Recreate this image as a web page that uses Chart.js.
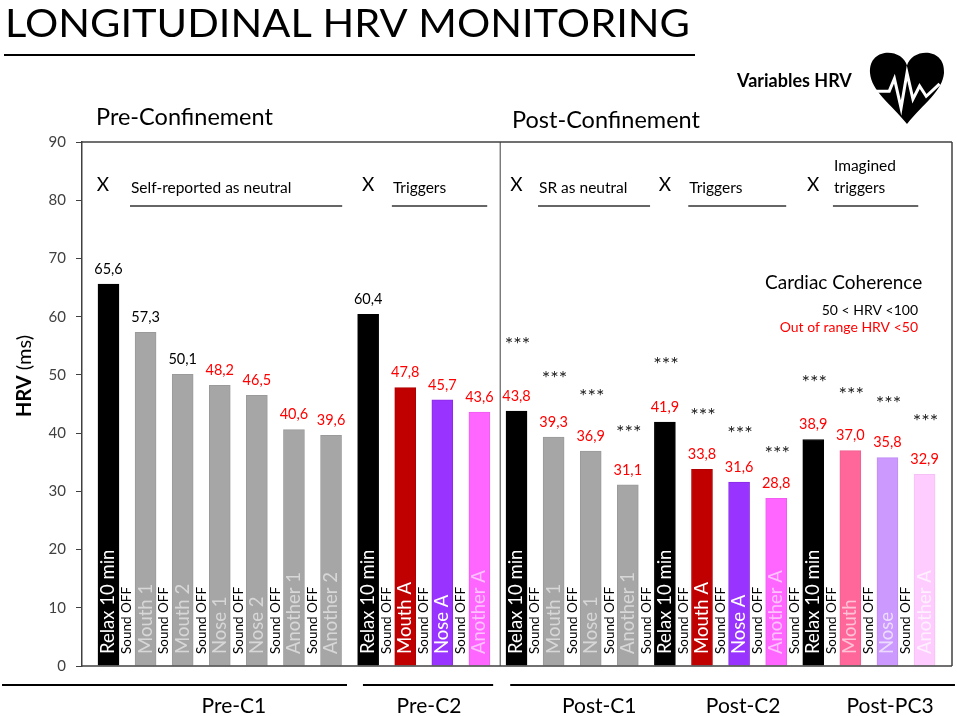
<!DOCTYPE html>
<html>
<head>
<meta charset="utf-8">
<title>Longitudinal HRV monitoring</title>
<script src="https://cdn.jsdelivr.net/npm/chart.js@4.4.0/dist/chart.umd.min.js"></script>
<style>
    html, body { margin: 0; padding: 0; background: #fff; }
    #wrap { width: 957px; height: 716px; }
</style>
</head>
<body>
<div id="wrap"><canvas id="hrvChart" width="957" height="716"></canvas></div>
<script>
// Conditions in plot order (one bar each)
const conditions = [
    'Relax 10 min', 'Mouth 1', 'Mouth 2', 'Nose 1', 'Nose 2', 'Another 1', 'Another 2',
    'Relax 10 min', 'Mouth A', 'Nose A', 'Another A',
    'Relax 10 min', 'Mouth 1', 'Nose 1', 'Another 1',
    'Relax 10 min', 'Mouth A', 'Nose A', 'Another A',
    'Relax 10 min', 'Mouth', 'Nose', 'Another A'
];
const hrvValues = [
    65.6, 57.3, 50.1, 48.2, 46.5, 40.6, 39.6,
    60.4, 47.8, 45.7, 43.6,
    43.8, 39.3, 36.9, 31.1,
    41.9, 33.8, 31.6, 28.8,
    38.9, 37.0, 35.8, 32.9
];
// height (ms) of the *** significance marks, post-confinement only
const starLevels = [
    null, null, null, null, null, null, null,
    null, null, null, null,
    56.0, 50.3, 47.2, 41.0,
    52.6, 43.8, 40.7, 37.4,
    49.5, 47.4, 46.0, 42.9
];
// a "Sound OFF" label sits between bar i and bar i+1
const soundOffAfter = [0, 1, 2, 3, 4, 5, 7, 8, 9, 11, 12, 13, 14, 15, 16, 17, 18, 19, 20, 21];

const groupNames = ['Pre-C1', 'Pre-C2', 'Post-C1', 'Post-C2', 'Post-PC3'];
const groupNotes = [['Self-reported as neutral'], ['Triggers'], ['SR as neutral'], ['Triggers'], ['Imagined', 'triggers']];
const yTicks = [0, 10, 20, 30, 40, 50, 60, 70, 80, 90];

// styles
const FONT = 'Lato, "Open Sans", sans-serif';
const palette = {
    relax: '#000000', grey: '#a6a6a6', red: '#c00000', purple: '#9933ff',
    magenta: '#ff66ff', pink: '#ff6699', lilac: '#cc99ff', blush: '#ffccff'
};
const barKinds = [
    'relax', 'grey', 'grey', 'grey', 'grey', 'grey', 'grey',
    'relax', 'red', 'purple', 'magenta',
    'relax', 'grey', 'grey', 'grey',
    'relax', 'red', 'purple', 'magenta',
    'relax', 'pink', 'lilac', 'blush'
];
const labelInk = {
    relax: '#ffffff', grey: 'rgba(255,255,255,0.55)', red: '#ffffff', purple: '#ffffff',
    magenta: 'rgba(255,255,255,0.6)', pink: 'rgba(255,255,255,0.6)', lilac: 'rgba(255,255,255,0.65)', blush: 'rgba(255,255,255,0.7)'
};
const borderInk = {
    relax: '#000000', grey: '#9a9a9a', red: '#b00000', purple: '#8a2be2',
    magenta: '#f25cf2', pink: '#f06090', lilac: '#c08cf5', blush: '#f5c0f5'
};

// layout of the annotation marks, in bar-index units (x)
const noteLayout = [
    { xMark: -0.15, xLine: [0.58, 6.30] },
    { xMark: 7.0,  xLine: [7.64, 10.21] },
    { xMark: 11.0, xLine: [11.58, 14.60] },
    { xMark: 15.0, xLine: [15.63, 18.27] },
    { xMark: 19.0, xLine: [19.53, 21.83] }
];
const bottomLines = [[-2.87, 6.43], [6.86, 10.37], [10.83, 22.82]];
const bottomLabelX = [3.38, 8.64, 13.23, 17.11, 21.07];

function fmt(v) {
    return v.toFixed(1).replace('.', ',');
}

function upText(ctx, text, x, y, font, color) {
    ctx.save();
    ctx.translate(x, y);
    ctx.rotate(-Math.PI / 2);
    ctx.font = font;
    ctx.fillStyle = color;
    ctx.textAlign = 'left';
    ctx.textBaseline = 'middle';
    ctx.fillText(text, 0, 0);
    ctx.restore();
}

function line(ctx, x1, y1, x2, y2, w, color) {
    ctx.save();
    ctx.beginPath();
    ctx.moveTo(x1, y1);
    ctx.lineTo(x2, y2);
    ctx.lineWidth = w;
    ctx.strokeStyle = color;
    ctx.stroke();
    ctx.restore();
}

function drawHeart(ctx, x0, y0, w, h) {
    const cx = x0 + w / 2;
    ctx.save();
    ctx.beginPath();
    ctx.moveTo(cx, y0 + h * 0.2);
    ctx.bezierCurveTo(cx - w * 0.06, y0 - h * 0.04, x0 - w * 0.02, y0 - h * 0.06, x0, y0 + h * 0.3);
    ctx.bezierCurveTo(x0 + w * 0.02, y0 + h * 0.55, cx - w * 0.22, y0 + h * 0.72, cx, y0 + h);
    ctx.bezierCurveTo(cx + w * 0.22, y0 + h * 0.72, x0 + w * 0.98, y0 + h * 0.55, x0 + w, y0 + h * 0.3);
    ctx.bezierCurveTo(x0 + w * 1.02, y0 - h * 0.06, cx + w * 0.06, y0 - h * 0.04, cx, y0 + h * 0.2);
    ctx.fillStyle = '#000';
    ctx.fill();
    // pulse trace
    const pts = [[0.06, 0.55], [0.26, 0.55], [0.33, 0.38], [0.42, 0.78], [0.5, 0.3], [0.58, 0.66], [0.67, 0.48], [0.76, 0.62], [0.94, 0.45]];
    ctx.beginPath();
    pts.forEach((p, i) => {
        const px = x0 + p[0] * w, py = y0 + p[1] * h;
        if (i === 0) ctx.moveTo(px, py); else ctx.lineTo(px, py);
    });
    ctx.strokeStyle = '#fff';
    ctx.lineWidth = 3;
    ctx.stroke();
    ctx.restore();
}

const hrvDecor = {
    id: 'hrvDecor',
    beforeDraw(chart) {
        const ctx = chart.ctx;
        ctx.save();
        ctx.fillStyle = '#fff';
        ctx.fillRect(0, 0, chart.width, chart.height);
        ctx.restore();
    },
    afterDatasetsDraw(chart) {
        const ctx = chart.ctx;
        const a = chart.chartArea;
        const xs = chart.scales.x, ys = chart.scales.y;
        const bx = i => xs.getPixelForValue(i);

        // frame + divider
        line(ctx, a.left, a.top, a.right, a.top, 1.5, '#404040');
        line(ctx, a.right, a.top, a.right, a.bottom, 1.5, '#404040');
        line(ctx, a.left, a.bottom, a.right, a.bottom, 1.5, '#404040');
        line(ctx, xs.getPixelForValue(10.56), a.top, xs.getPixelForValue(10.56), a.bottom, 1, '#404040');

        // labels inside bars
        conditions.forEach((c, i) => {
            upText(ctx, c, bx(i), a.bottom - 12, '18.5px ' + FONT, labelInk[barKinds[i]]);
        });
        soundOffAfter.forEach(i => {
            upText(ctx, 'Sound OFF', (bx(i) + bx(i + 1)) / 2, a.bottom - 12, '13.5px ' + FONT, '#000');
        });

        // value labels and stars
        ctx.save();
        ctx.textAlign = 'center';
        ctx.textBaseline = 'middle';
        hrvValues.forEach((v, i) => {
            ctx.font = '14.5px ' + FONT;
            ctx.fillStyle = v >= 50 ? '#000' : '#ff0000';
            ctx.fillText(fmt(v), bx(i), ys.getPixelForValue(v) - 15);
            if (starLevels[i] !== null) {
                ctx.font = '20px ' + FONT;
                ctx.fillStyle = '#222';
                ctx.fillText('***', bx(i) + 1, ys.getPixelForValue(starLevels[i]) + 5);
            }
        });
        ctx.restore();

        // group notes at top of plot
        ctx.save();
        ctx.textBaseline = 'middle';
        noteLayout.forEach((n, g) => {
            ctx.fillStyle = '#000';
            ctx.textAlign = 'center';
            ctx.font = '19px ' + FONT;
            ctx.fillText('X', xs.getPixelForValue(n.xMark), 185);
            ctx.textAlign = 'left';
            ctx.font = '15.5px ' + FONT;
            const notes = groupNotes[g];
            notes.forEach((t, k) => {
                ctx.fillText(t, xs.getPixelForValue(n.xLine[0]) + 1, 188 - (notes.length - 1 - k) * 22);
            });
            line(ctx, xs.getPixelForValue(n.xLine[0]), 206, xs.getPixelForValue(n.xLine[1]), 206, 1.3, '#333');
        });

        // coherence legend
        ctx.font = '19px ' + FONT;
        ctx.textAlign = 'left';
        ctx.fillText('Cardiac Coherence', 765, 283);
        ctx.font = '14px ' + FONT;
        ctx.textAlign = 'right';
        ctx.fillText('50 < HRV <100', 918, 310);
        ctx.fillStyle = '#ff0000';
        ctx.fillText('Out of range HRV <50', 918, 327);
        ctx.restore();
    },
    afterDraw(chart) {
        const ctx = chart.ctx;
        const a = chart.chartArea;
        const xs = chart.scales.x;

        // title
        ctx.save();
        ctx.font = '400 39px ' + FONT;
        ctx.fillStyle = '#000';
        ctx.textBaseline = 'alphabetic';
        const title = 'LONGITUDINAL HRV MONITORING';
        const tw = ctx.measureText(title).width;
        ctx.translate(5, 37);
        ctx.scale(685 / tw, 1);
        ctx.fillText(title, 0, 0);
        ctx.restore();
        line(ctx, 4, 55, 695, 55, 2, '#000');

        ctx.save();
        ctx.fillStyle = '#000';
        ctx.textBaseline = 'middle';
        ctx.font = 'bold 18px ' + FONT;
        ctx.fillText('Variables HRV', 737, 81);
        ctx.font = '23.5px ' + FONT;
        ctx.fillText('Pre-Confinement', 96, 117);
        ctx.fillText('Post-Confinement', 512, 120);

        // y-axis title
        ctx.translate(25, 376);
        ctx.rotate(-Math.PI / 2);
        ctx.font = 'bold 20px ' + FONT;
        const w1 = ctx.measureText('HRV').width;
        ctx.font = '20px ' + FONT;
        const w2 = ctx.measureText(' (ms)').width;
        ctx.textAlign = 'left';
        ctx.font = 'bold 20px ' + FONT;
        ctx.fillText('HRV', -(w1 + w2) / 2, 0);
        ctx.font = '20px ' + FONT;
        ctx.fillText(' (ms)', -(w1 + w2) / 2 + w1, 0);
        ctx.restore();

        drawHeart(ctx, 870, 51, 74, 73);

        // period brackets under the axis
        bottomLines.forEach(b => {
            line(ctx, xs.getPixelForValue(b[0]), a.bottom + 19, xs.getPixelForValue(b[1]), a.bottom + 19, 2, '#000');
        });
        ctx.save();
        ctx.font = '21px ' + FONT;
        ctx.fillStyle = '#000';
        ctx.textAlign = 'center';
        ctx.textBaseline = 'middle';
        groupNames.forEach((n, g) => {
            ctx.fillText(n, xs.getPixelForValue(bottomLabelX[g]), a.bottom + 40);
        });
        ctx.restore();
    }
};

const ctx = document.getElementById('hrvChart');
new Chart(ctx, {
    type: 'bar',
    data: {
        datasets: [{
            label: 'HRV (ms)',
            data: hrvValues.map((v, i) => ({ x: i, y: v })),
            backgroundColor: barKinds.map(k => palette[k]),
            borderColor: barKinds.map(k => borderInk[k]),
            borderWidth: 1,
            barThickness: 21
        }]
    },
    options: {
        responsive: false,
        animation: false,
        layout: {
            padding: { left: 0, top: 142, right: 5, bottom: 50 }
        },
        plugins: {
            legend: { display: false },
            tooltip: { enabled: false }
        },
        scales: {
            x: {
                type: 'linear',
                min: -0.714,
                max: 22.74,
                offset: false,
                display: false
            },
            y: {
                min: 0,
                max: 90,
                afterBuildTicks: s => { s.ticks = yTicks.map(v => ({ value: v })); },
                afterFit: s => { s.width = 82; },
                ticks: {
                    color: '#404040',
                    padding: 10,
                    font: { family: FONT, size: 15 }
                },
                grid: {
                    drawOnChartArea: false,
                    drawTicks: true,
                    tickLength: 6,
                    color: '#404040'
                },
                border: { color: '#404040', width: 1.5 }
            }
        }
    },
    plugins: [hrvDecor]
});
</script>
</body>
</html>
